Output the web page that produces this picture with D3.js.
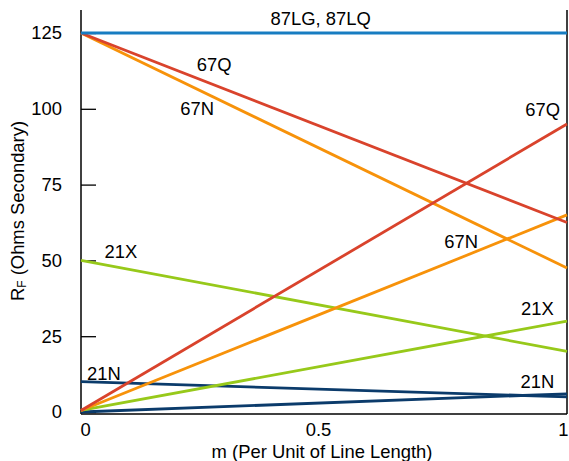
<!DOCTYPE html>
<html>
<head>
<meta charset="utf-8">
<script src="https://cdn.jsdelivr.net/npm/d3@7"></script>
<style>
  body { margin: 0; background: #fff; }
  svg { display: block; font-family: "Liberation Sans", Arial, sans-serif; }
</style>
</head>
<body>
<svg id="chart" width="569" height="461"></svg>
<script>
// ---- data ----
const mValues = [0, 1];
const seriesNames = ["21N fwd", "21N rev", "21X fwd", "21X rev", "67N fwd", "67N rev", "67Q fwd", "67Q rev", "87LG/87LQ"];
const seriesStart = [0, 10, 0.5, 50, 0.5, 125, 0.5, 125, 125];
const seriesEnd   = [6, 5, 30, 20, 65, 47.5, 95, 62.5, 125];
const seriesColor = ["#0b3b6b", "#0b3b6b", "#97c91a", "#97c91a", "#f7920a", "#f7920a", "#d9432c", "#d9432c", "#177cc1"];
const yTicks = [0, 25, 50, 75, 100, 125];
const xTicks = [0, 0.5, 1];
const labelText = ["87LG, 87LQ", "67Q", "67N", "67Q", "21X", "67N", "21X", "21N", "21N"];
const labelM    = [0.493, 0.274, 0.239, 0.950, 0.082, 0.782, 0.939, 0.047, 0.939];
const labelR    = [127.6, 112.5, 98.0, 97.5, 50.8, 54.1, 32.0, 10.6, 7.9];

// ---- layout ----
const FS = 18.4;
const svg = d3.select("#chart");
const x = d3.scaleLinear().domain([0, 1]).range([81, 567]);
const y = d3.scaleLinear().domain([0, 125]).range([412, 33]);
const axisBottomY = 414;
const plotTop = 10;

// frame: left, right, bottom
svg.append("line").attr("x1", x(0)).attr("x2", x(0)).attr("y1", plotTop).attr("y2", axisBottomY)
  .attr("stroke", "#000").attr("stroke-width", 1.5);
svg.append("line").attr("x1", x(1)).attr("x2", x(1)).attr("y1", plotTop).attr("y2", axisBottomY)
  .attr("stroke", "#000").attr("stroke-width", 1.5);
svg.append("line").attr("x1", x(0)).attr("x2", x(1)).attr("y1", axisBottomY).attr("y2", axisBottomY)
  .attr("stroke", "#000").attr("stroke-width", 1.5);

// y axis (ticks pointing inward)
const yAxis = svg.append("g").attr("transform", `translate(${x(0)},0)`)
  .call(d3.axisLeft(y).tickValues(yTicks).tickSize(-15).tickPadding(19).tickFormat(d3.format("d")));
yAxis.select(".domain").remove();
yAxis.selectAll(".tick line").attr("stroke", "#000").attr("stroke-width", 1.3);
yAxis.selectAll(".tick text").attr("font-size", FS).attr("fill", "#000")
  .attr("font-family", "Liberation Sans, Arial, sans-serif");

// x axis
const xAxis = svg.append("g").attr("transform", `translate(0,${axisBottomY})`)
  .call(d3.axisBottom(x).tickValues(xTicks).tickSize(0).tickPadding(9).tickFormat(d => d === 0.5 ? "0.5" : d3.format("d")(d)));
xAxis.select(".domain").remove();
xAxis.selectAll(".tick text").attr("font-size", FS).attr("fill", "#000")
  .attr("font-family", "Liberation Sans, Arial, sans-serif")
  .attr("text-anchor", (d, i) => i === 2 ? "end" : "middle")
  .attr("dx", (d, i) => [4, -6, 1][i]);

// lines
const line = d3.line().x(d => x(d[0])).y(d => y(d[1]));
seriesNames.forEach((name, i) => {
  const pts = mValues.map(m => [m, m === 0 ? seriesStart[i] : seriesEnd[i]]);
  svg.append("path").datum(pts)
    .attr("d", line)
    .attr("fill", "none")
    .attr("stroke", seriesColor[i])
    .attr("stroke-width", 2.8);
});

// annotations
labelText.forEach((t, i) => {
  svg.append("text").attr("x", x(labelM[i])).attr("y", y(labelR[i]))
    .attr("text-anchor", "middle").attr("font-size", FS).attr("fill", "#000")
    .text(t);
});

// axis titles
svg.append("text").attr("x", 322).attr("y", 458).attr("text-anchor", "middle")
  .attr("font-size", FS).attr("fill", "#000").text("m (Per Unit of Line Length)");

const yt = svg.append("text").attr("transform", "translate(24,211) rotate(-90)")
  .attr("text-anchor", "middle").attr("font-size", FS).attr("fill", "#000");
yt.append("tspan").text("R");
yt.append("tspan").attr("font-size", 12).attr("dy", 2).text("F");
yt.append("tspan").attr("dy", -2).text(" (Ohms Secondary)");
</script>
</body>
</html>
